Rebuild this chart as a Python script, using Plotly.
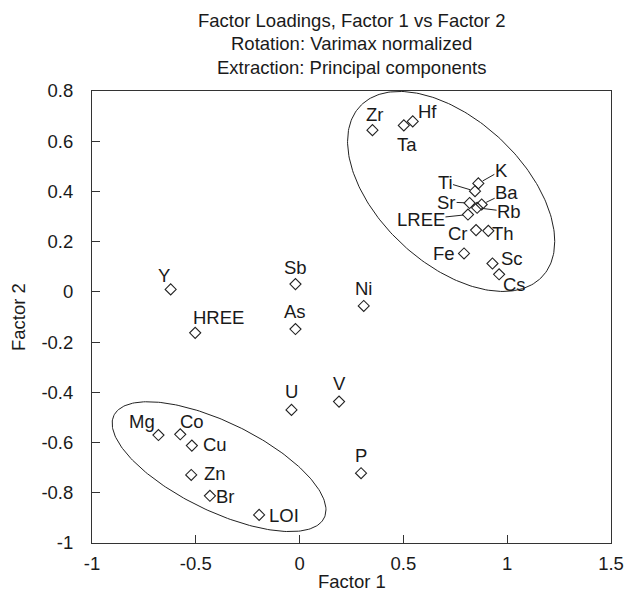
import numpy as np
import plotly.graph_objects as go

# ---------------- data ----------------
elements = ["Zr", "Ta", "Hf", "K", "Ti", "Sr", "Ba", "Rb", "LREE", "Cr", "Th", "Fe", "Sc", "Cs",
            "Y", "HREE", "Sb", "As", "Ni", "U", "V", "Mg", "Co", "Cu", "Zn", "Br", "LOI", "P"]
factor1 = [0.351, 0.502, 0.545, 0.861, 0.845, 0.819, 0.877, 0.855, 0.811, 0.850, 0.909, 0.792, 0.929, 0.961,
           -0.621, -0.503, -0.020, -0.020, 0.309, -0.039, 0.190, -0.680, -0.575, -0.519, -0.522, -0.432, -0.195, 0.296]
factor2 = [0.644, 0.663, 0.679, 0.432, 0.401, 0.354, 0.348, 0.335, 0.308, 0.246, 0.243, 0.153, 0.113, 0.070,
           0.010, -0.163, 0.031, -0.148, -0.056, -0.470, -0.437, -0.570, -0.567, -0.612, -0.729, -0.812, -0.888, -0.722]

x_ticks = [-1, -0.5, 0, 0.5, 1, 1.5]
y_ticks = [0.8, 0.6, 0.4, 0.2, 0, -0.2, -0.4, -0.6, -0.8, -1]

title_lines = ["Factor Loadings, Factor 1 vs Factor 2",
               "Rotation: Varimax normalized",
               "Extraction: Principal components"]
x_title = "Factor 1"
y_title = "Factor 2"

# ---------------- label placement (pixels: dx right, dy down) ----------------
label_offsets = {
    "Zr": (2, -16), "Ta": (3, 19), "Hf": (15, -10), "Cr": (-18, 3), "Th": (15, 3),
    "Fe": (-20, 0), "Sc": (20, -5), "Cs": (15, 10), "Y": (-7, -14), "HREE": (23, -15),
    "Sb": (0, -17), "As": (0, -18), "Ni": (0, -17), "U": (0, -18), "V": (0, -18),
    "Mg": (-16, -14), "Co": (12, -13), "Cu": (23, -1), "Zn": (24, -1), "Br": (16, 1),
    "LOI": (25, 1), "P": (0, -18),
}
leader_offsets = {
    "K": (23, -13), "Ti": (-30, -9), "Sr": (-23, -1), "Ba": (25, -12), "Rb": (32, 4), "LREE": (-47, 5),
}

# ellipse outlines (data units): centre, x half-width, y coefficients for cos/sin
ellipses = [
    dict(cx=0.730, cy=0.400, ax=0.499, by_c=-0.199, by_s=-0.345),
    dict(cx=-0.388, cy=-0.696, ax=0.515, by_c=-0.172, by_s=-0.193),
]

FONT = "Liberation Sans, Arial, sans-serif"
TXT = "#1a1a1a"
FS = 18.5

W, H = 626, 595
ML, MR, MT, MB = 92, 15, 91, 52
PW, PH = W - ML - MR, H - MT - MB


def px_to_paper_y(py):
    return (H - MB - py) / PH


def px_to_paper_x(px):
    return (px - ML) / PW


fig = go.Figure()

t = np.linspace(0, 2 * np.pi, 241)
for e in ellipses:
    fig.add_trace(go.Scatter(
        x=e["cx"] + e["ax"] * np.cos(t),
        y=e["cy"] + e["by_c"] * np.cos(t) + e["by_s"] * np.sin(t),
        mode="lines", line=dict(color="#222", width=1), hoverinfo="skip", showlegend=False))

fig.add_trace(go.Scatter(
    x=factor1, y=factor2, mode="markers", text=elements,
    marker=dict(symbol="diamond-open", size=8.5, color="#222", line=dict(width=1.1, color="#222")),
    showlegend=False))

annotations = []
for name, xv, yv in zip(elements, factor1, factor2):
    if name in label_offsets:
        dx, dy = label_offsets[name]
        annotations.append(dict(x=xv, y=yv, xref="x", yref="y", text=name, showarrow=False,
                                xshift=dx, yshift=-dy, xanchor="center", yanchor="middle",
                                font=dict(family=FONT, size=FS, color=TXT)))
    elif name in leader_offsets:
        dx, dy = leader_offsets[name]
        annotations.append(dict(x=xv, y=yv, xref="x", yref="y", text=name, showarrow=True,
                                ax=dx, ay=dy, arrowhead=0, arrowwidth=1, arrowcolor="#222",
                                standoff=5, borderpad=0,
                                font=dict(family=FONT, size=FS, color=TXT)))

# title lines
for line, py in zip(title_lines, [20, 44, 68]):
    annotations.append(dict(x=0.5, y=px_to_paper_y(py), xref="paper", yref="paper", text=line,
                            showarrow=False, xanchor="center", yanchor="middle",
                            font=dict(family=FONT, size=FS, color=TXT)))
# axis titles
annotations.append(dict(x=0.5, y=px_to_paper_y(581), xref="paper", yref="paper", text=x_title,
                        showarrow=False, xanchor="center", yanchor="middle",
                        font=dict(family=FONT, size=FS, color=TXT)))
annotations.append(dict(x=px_to_paper_x(18), y=0.5, xref="paper", yref="paper", text=y_title,
                        showarrow=False, xanchor="center", yanchor="middle", textangle=-90,
                        font=dict(family=FONT, size=FS, color=TXT)))

fig.update_layout(
    width=W, height=H,
    margin=dict(l=ML, r=MR, t=MT, b=MB),
    paper_bgcolor="white", plot_bgcolor="white",
    font=dict(family=FONT, size=FS, color=TXT),
    annotations=annotations,
    xaxis=dict(range=[-1, 1.5], tickvals=x_ticks, ticktext=[f"{v:g}" for v in x_ticks],
               showgrid=False, zeroline=False, showline=True, linecolor="#333", linewidth=1,
               mirror=True, ticks="inside", ticklen=8, tickcolor="#333",
               ticklabelstandoff=4, automargin=False),
    yaxis=dict(range=[-1, 0.8], tickvals=y_ticks, ticktext=[f"{v:g}" for v in y_ticks],
               showgrid=False, zeroline=False, showline=True, linecolor="#333", linewidth=1,
               mirror=True, ticks="inside", ticklen=8, tickcolor="#333",
               ticklabelstandoff=14, automargin=False),
)

fig.write_html("out.html")
